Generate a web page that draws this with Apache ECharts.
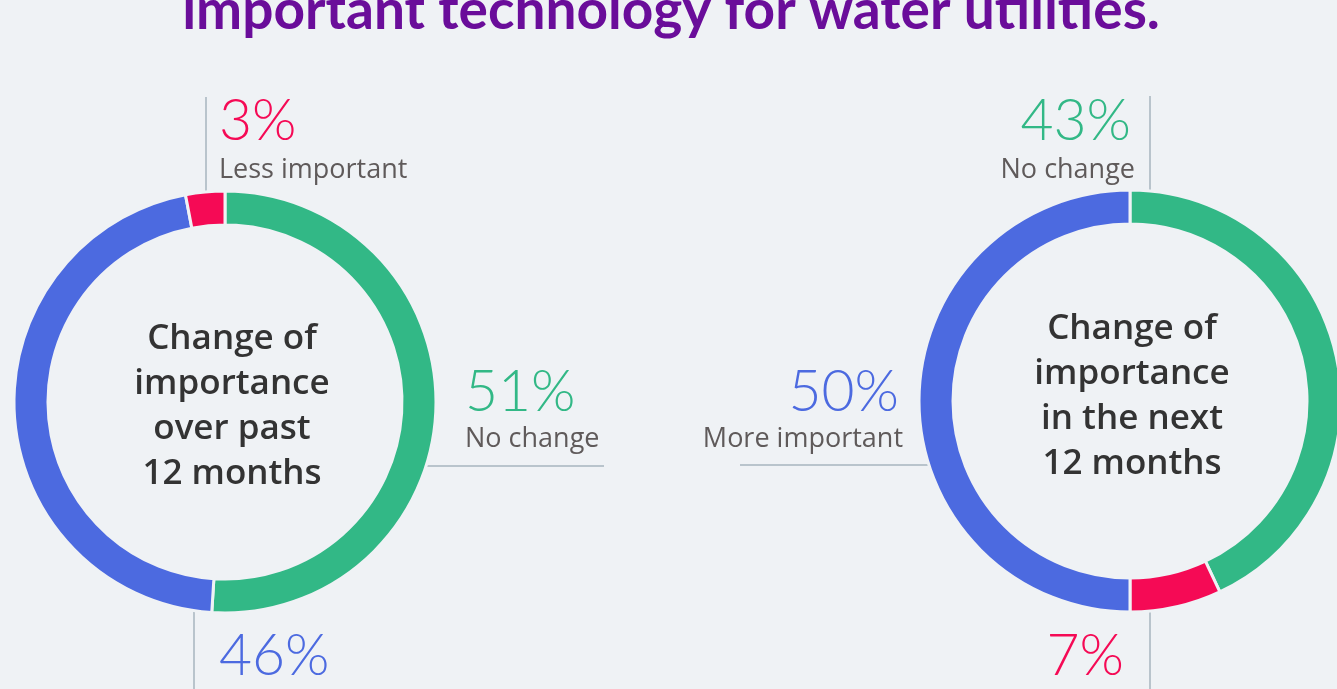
<!DOCTYPE html>
<html>
<head>
<meta charset="utf-8">
<title>ECharts</title>
<script src="https://cdn.jsdelivr.net/npm/echarts@6/dist/echarts.min.js"></script>
<style>
  html, body { margin: 0; padding: 0; background: #eff2f5; }
</style>
</head>
<body>
	<div id="main" style="width: 1337px; height: 689px;"></div>
	<script type="text/javascript">
		// data
		var titleText = 'important technology for water utilities.';
		var pastCategories = ['No change', 'More important', 'Less important'];
		var pastValues = [51, 46, 3];
		var pastColors = ['#32b886', '#4c6ae0', '#f50a55'];
		var nextCategories = ['No change', 'Less important', 'More important'];
		var nextValues = [43, 7, 50];
		var nextColors = ['#32b886', '#f50a55', '#4c6ae0'];
		var pastCenter = 'Change of\nimportance\nover past\n12 months';
		var nextCenter = 'Change of\nimportance\nin the next\n12 months';

		var bg = '#eff2f5';
		var lineColor = '#b9c4cc';
		var grey = '#5f5a5a';

		function toData(cats, vals, colors) {
			return cats.map(function (c, i) {
				return { name: c, value: vals[i], itemStyle: { color: colors[i] } };
			});
		}

		function pctLabel(val, color, x, y, align) {
			return {
				type: 'text', x: x, y: y, z: 10,
				style: {
					text: val + '%', fill: color, align: align, verticalAlign: 'middle',
					font: '300 57px Lato, "Noto Sans", sans-serif'
				}
			};
		}
		function nameLabel(name, x, y, align) {
			return {
				type: 'text', x: x, y: y, z: 10,
				style: {
					text: name, fill: grey, align: align, verticalAlign: 'middle',
					font: '400 27px "Open Sans", Lato, sans-serif'
				}
			};
		}
		function line(x1, y1, x2, y2) {
			return {
				type: 'line', z: 0, silent: true,
				shape: { x1: x1, y1: y1, x2: x2, y2: y2 },
				style: { stroke: lineColor, lineWidth: 2 }
			};
		}
		function centerText(txt, x, y) {
			return {
				type: 'text', x: x, y: y, z: 10,
				style: {
					text: txt, fill: '#333333', align: 'center', verticalAlign: 'middle',
					font: '600 35px "Open Sans", Lato, sans-serif', lineHeight: 45
				}
			};
		}

		var myChart = echarts.init(document.getElementById('main'));
		myChart.setOption({
			backgroundColor: bg,
			animation: false,
			graphic: [
				{
					type: 'text', x: 671, y: 11,
					style: {
						text: titleText, fill: '#6a0d9a', align: 'center', verticalAlign: 'middle',
						font: '700 55px Lato, "Noto Sans", sans-serif'
					}
				},
				// left chart lines
				line(206, 97, 206, 194),
				line(425, 466, 604, 466),
				line(194, 610, 194, 689),
				// right chart lines
				line(1150, 96, 1150, 192),
				line(740, 465, 932, 465),
				line(1150, 610, 1150, 689),
				// left labels
				pctLabel(pastValues[2], pastColors[2], 219, 122, 'left'),
				nameLabel(pastCategories[2], 219, 170, 'left'),
				pctLabel(pastValues[0], pastColors[0], 465, 393, 'left'),
				nameLabel(pastCategories[0], 465, 439, 'left'),
				pctLabel(pastValues[1], pastColors[1], 219, 657, 'left'),
				// right labels
				pctLabel(nextValues[0], nextColors[0], 1131, 122, 'right'),
				nameLabel(nextCategories[0], 1135, 170, 'right'),
				pctLabel(nextValues[2], nextColors[2], 899, 393, 'right'),
				nameLabel(nextCategories[2], 903, 439, 'right'),
				pctLabel(nextValues[1], nextColors[1], 1124, 657, 'right'),
				// centre texts
				centerText(pastCenter, 232, 407),
				centerText(nextCenter, 1132, 397)
			],
			series: [
				{
					type: 'pie',
					center: [225, 402],
					radius: [177, 211],
					startAngle: 90,
					clockwise: true,
					label: { show: false },
					labelLine: { show: false },
					silent: true,
					itemStyle: { borderColor: bg, borderWidth: 3 },
					data: toData(pastCategories, pastValues, pastColors)
				},
				{
					type: 'pie',
					center: [1130, 401],
					radius: [177, 211],
					startAngle: 90,
					clockwise: true,
					label: { show: false },
					labelLine: { show: false },
					silent: true,
					itemStyle: { borderColor: bg, borderWidth: 3 },
					data: toData(nextCategories, nextValues, nextColors)
				}
			]
		});
	</script>
</body>
</html>
